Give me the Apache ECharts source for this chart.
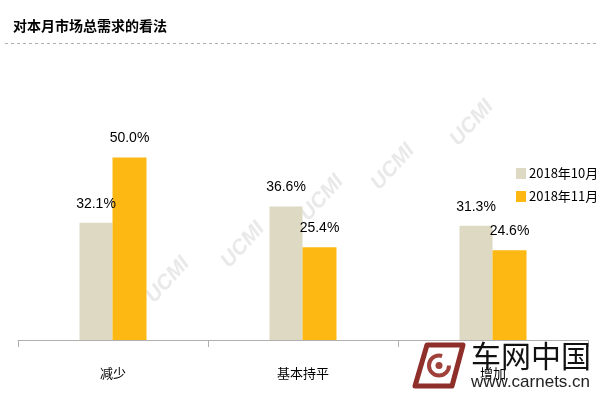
<!DOCTYPE html>
<html><head><meta charset="utf-8">
<script src="https://cdn.jsdelivr.net/npm/echarts@6/dist/echarts.min.js"></script>
<style>html,body{margin:0;padding:0;background:#fff}#c{width:600px;height:400px}</style>
</head><body><div id="c"></div>
<script>
const categories = ['减少', '基本持平', '增加'];
const seriesNames = ['2018年10月', '2018年11月'];
const oct2018 = [32.1, 36.6, 31.3];
const nov2018 = [50.0, 25.4, 24.6];
const titleText = '对本月市场总需求的看法';

const narrow = '"Liberation Sans Narrow","Arial Narrow",sans-serif';
const cjk = '"Liberation Sans Narrow","Noto Sans CJK SC",sans-serif';

const chart = echarts.init(document.getElementById('c'));
const wm = [[168,280],[243,245],[322,198],[393,167],[472,123]].map(p => ({
  type: 'text', x: p[0], y: p[1], rotation: Math.PI/180*48, silent: true, z: 0,
  style: { text: 'UCMI', fill: '#e9e9e9', font: 'italic bold 21px "Liberation Sans Narrow",sans-serif', align: 'center', verticalAlign: 'middle' }
}));
chart.setOption({
  animation: false,
  title: { text: titleText, left: 8, top: 14, textStyle: { fontSize: 14, fontWeight: 'bold', color: '#000', fontFamily: '"Noto Sans CJK SC",sans-serif' } },
  graphic: [
    { type: 'line', shape: { x1: 5, y1: 43.5, x2: 598, y2: 43.5 }, style: { stroke: '#b0b0b0', lineWidth: 1, lineDash: [3, 3] } },
    ...wm,
    { type: 'polygon', z: 100, silent: true, shape: { points: [[427,345],[463,345],[452,386],[415,386]] },
      style: { fill: 'none', stroke: '#8e2f2a', lineWidth: 5, lineJoin: 'round' } },
    { type: 'arc', z: 100, silent: true, shape: { cx: 439, cy: 365.5, r: 10, startAngle: 0, endAngle: Math.PI * 1.6 },
      style: { fill: 'none', stroke: '#a0403a', lineWidth: 4 } },
    { type: 'circle', z: 100, silent: true, shape: { cx: 439, cy: 365.5, r: 3.5 }, style: { fill: '#a0403a' } },
    { type: 'text', z: 100, x: 471, y: 341, silent: true, style: { text: '车网中国', fill: '#111', font: '30px "Noto Sans CJK SC",sans-serif', verticalAlign: 'top' } },
    { type: 'text', z: 100, x: 471, y: 391, silent: true, style: { text: 'www.carnets.cn', fill: '#222', font: '17px "Liberation Sans",sans-serif', verticalAlign: 'bottom' } }
  ],
  legend: {
    data: seriesNames, orient: 'vertical', left: 516, top: 167, padding: 0, itemWidth: 10, itemHeight: 11, itemGap: 10,
    icon: 'rect', textStyle: { fontSize: 13, color: '#000', fontFamily: cjk, padding: [0,0,0,-2] }
  },
  grid: { left: 18, right: 12, top: 48, bottom: 60, containLabel: false },
  xAxis: {
    type: 'category', data: categories,
    axisLine: { lineStyle: { color: '#b0b0b0' } },
    axisTick: { show: true, length: 7, alignWithLabel: false, lineStyle: { color: '#b0b0b0' } },
    axisLabel: { color: '#000', fontSize: 13, margin: 27, fontFamily: '"Noto Sans CJK SC",sans-serif' }
  },
  yAxis: { type: 'value', min: 0, max: 80, show: false, splitLine: { show: false } },
  series: [
    { name: seriesNames[0], type: 'bar', data: oct2018, barWidth: 33, barGap: '0%', itemStyle: { color: '#DDD9C3' },
      label: { show: true, position: 'top', distance: 12, formatter: p => p.value.toFixed(1) + '%', color: '#000', fontSize: 14, fontFamily: narrow } },
    { name: seriesNames[1], type: 'bar', data: nov2018, barWidth: 34, barGap: '0%', itemStyle: { color: '#FDB813' },
      label: { show: true, position: 'top', distance: 12, formatter: p => p.value.toFixed(1) + '%', color: '#000', fontSize: 14, fontFamily: narrow } }
  ]
});
</script></body></html>
